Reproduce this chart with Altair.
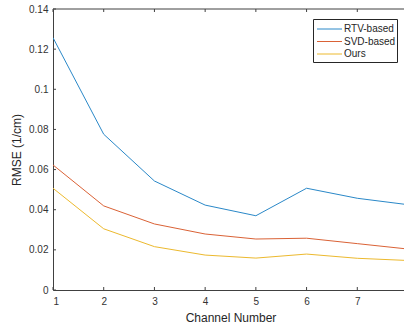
import altair as alt
import pandas as pd

channels = [1, 2, 3, 4, 5, 6, 7, 8]
rtv = [0.1257, 0.0776, 0.0543, 0.0423, 0.0370, 0.0507, 0.0457, 0.0425]
svd = [0.0623, 0.0419, 0.0329, 0.0279, 0.0254, 0.0258, 0.0231, 0.0204]
ours = [0.0507, 0.0305, 0.0216, 0.0174, 0.0159, 0.0179, 0.0158, 0.0147]
series_names = ["RTV-based", "SVD-based", "Ours"]
colors = ["#2a88c8", "#da6236", "#ecb92e"]
x_ticks = [1, 2, 3, 4, 5, 6, 7]
y_ticks = [0, 0.02, 0.04, 0.06, 0.08, 0.1, 0.12, 0.14]

rows = []
for name, vals in zip(series_names, [rtv, svd, ours]):
    for c, v in zip(channels, vals):
        rows.append({"series": name, "channel": c, "rmse": v})
df = pd.DataFrame(rows)

FONT = "Liberation Sans"
AX = "#404040"
W, H = 351, 281

xscale = alt.Scale(domain=[1, 7.921], nice=False, zero=False)
yscale = alt.Scale(domain=[0, 0.14], nice=False)
cscale = alt.Scale(domain=series_names, range=colors)

lines = alt.Chart(df).mark_line(strokeWidth=1, clip=True).encode(
    x=alt.X("channel:Q", scale=xscale,
            axis=alt.Axis(values=x_ticks, title="Channel Number", format="d",
                          tickSize=0, labelPadding=6, titlePadding=6,
                          titleX=177.5)),
    y=alt.Y("rmse:Q", scale=yscale,
            axis=alt.Axis(values=y_ticks, title="RMSE (1/cm)", format="~g",
                          tickSize=0, labelPadding=5, titlePadding=5)),
    color=alt.Color("series:N", scale=cscale, sort=series_names, legend=None),
)

xt = pd.DataFrame({"t": x_ticks})
yt = pd.DataFrame({"t": y_ticks})

bottom_ticks = alt.Chart(xt).mark_rule(color=AX, strokeWidth=1).encode(
    x=alt.X("t:Q", scale=xscale), y=alt.value(H), y2=alt.value(H - 3))
top_ticks = alt.Chart(xt).mark_rule(color=AX, strokeWidth=1).encode(
    x=alt.X("t:Q", scale=xscale), y=alt.value(0), y2=alt.value(3))
left_ticks = alt.Chart(yt).mark_rule(color=AX, strokeWidth=1).encode(
    y=alt.Y("t:Q", scale=yscale, axis=None), x=alt.value(0), x2=alt.value(3))
top_line = alt.Chart(pd.DataFrame({"t": [0.14]})).mark_rule(color=AX, strokeWidth=1).encode(
    y=alt.Y("t:Q", scale=yscale, axis=None), x=alt.value(0), x2=alt.value(W))

# legend (manual, matching MATLAB style)
leg_df = pd.DataFrame({"series": series_names})
leg_y = alt.Y("series:N", scale=alt.Scale(type="point", domain=series_names,
                                          range=[20, 45], padding=0), axis=None)
leg_box = alt.Chart(pd.DataFrame({"b": [0]})).mark_rect(
    fill="white", stroke="#262626", strokeWidth=1).encode(
    x=alt.value(260.5), x2=alt.value(344.5), y=alt.value(10.5), y2=alt.value(53.5))
leg_lines = alt.Chart(leg_df).mark_tick(orient="horizontal", size=25, thickness=1).encode(
    x=alt.value(276.5), y=leg_y,
    color=alt.Color("series:N", scale=cscale, legend=None))
leg_rules = alt.Chart(leg_df).mark_rule(strokeWidth=1).encode(
    x=alt.value(264), x2=alt.value(289), y=leg_y,
    color=alt.Color("series:N", scale=cscale, legend=None))
leg_text = alt.Chart(leg_df).mark_text(
    align="left", baseline="middle", font=FONT, fontSize=10, color="#262626").encode(
    x=alt.value(291), y=leg_y, text="series:N")

chart = alt.layer(lines, bottom_ticks, top_ticks, left_ticks, top_line,
                  leg_box, leg_rules, leg_text).resolve_scale(
    y="independent"
).properties(
    width=W, height=H,
    autosize=alt.AutoSizeParams(type="none"),
    padding={"left": 53, "top": 9, "right": 0, "bottom": 39},
    background="white",
).configure_view(stroke=None).configure_axis(
    labelFont=FONT, titleFont=FONT, labelFontSize=10, titleFontSize=12,
    labelColor="#333333", titleColor="#262626", titleFontWeight="normal",
    domainColor=AX, grid=False,
)

chart.save("out.html", embed_options={"renderer": "svg", "actions": False})
